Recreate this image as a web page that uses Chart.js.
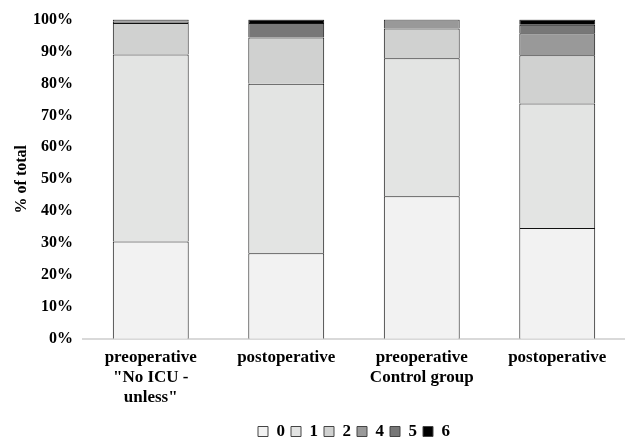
<!DOCTYPE html>
<html>
<head>
<meta charset="utf-8">
<script src="https://cdn.jsdelivr.net/npm/chart.js@4"></script>
<style>
  html, body { margin: 0; padding: 0; background: #fff; }
  #wrap { width: 625px; height: 438px; }
</style>
</head>
<body>
<div id="wrap"><canvas id="myChart"></canvas></div>
<script>
const categories = [
  ["preoperative", "\"No ICU -", "unless\""],
  ["postoperative"],
  ["preoperative", "Control group"],
  ["postoperative"]
];
const levels = ["0", "1", "2", "4", "5", "6"];
const score0 = [30.5, 26.8, 44.7, 34.7];
const score1 = [58.6, 53.1, 43.2, 39.0];
const score2 = [9.8, 14.5, 9.3, 15.1];
const score4 = [0.4, 0, 2.8, 6.9];
const score5 = [0.7, 4.5, 0, 2.7];
const score6 = [0, 1.1, 0, 1.6];
const yTicks = [0, 10, 20, 30, 40, 50, 60, 70, 80, 90, 100];

const colors = ['#f2f2f2', '#e3e4e3', '#d0d1d0', '#999999', '#777777', '#000000'];
const series = [score0, score1, score2, score4, score5, score6];
const font = "'Liberation Serif', 'Times New Roman', serif";

new Chart(document.getElementById("myChart"), {
    type: 'bar',
    data: {
        labels: categories,
        datasets: series.map((vals, i) => ({
            label: levels[i],
            data: vals,
            backgroundColor: colors[i],
            borderColor: '#111',
            borderWidth: 1,
            barPercentage: 0.56,
            categoryPercentage: 1
        }))
    },
    options: {
        responsive: true,
        maintainAspectRatio: false,
        animation: false,
        layout: { padding: { top: 18, right: 0, left: 12, bottom: -12 } },
        scales: {
            x: {
                stacked: true,
                grid: { display: false, drawTicks: false },
                border: { display: true, color: '#d9d9d9', width: 2 },
                ticks: {
                    color: '#000',
                    maxRotation: 0,
                    padding: 9,
                    font: { family: font, size: 17, weight: 'bold', lineHeight: 1.18 }
                }
            },
            y: {
                stacked: true,
                min: 0,
                max: 100,
                afterBuildTicks: s => { s.ticks = yTicks.map(v => ({ value: v })); },
                afterFit: s => { s.width = 71; },
                grid: { display: false, drawTicks: false },
                border: { display: false },
                ticks: {
                    color: '#000',
                    padding: 10,
                    font: { family: font, size: 16, weight: 'bold' },
                    callback: v => v + '%'
                },
                title: {
                    display: true,
                    text: '% of total',
                    color: '#000',
                    padding: { top: 0, bottom: 2 },
                    font: { family: font, size: 16, weight: 'bold' }
                }
            }
        },
        plugins: {
            tooltip: { enabled: false },
            legend: {
                position: 'bottom',
                fullSize: false,
                labels: {
                    color: '#000',
                    boxWidth: 10,
                    boxHeight: 10,
                    padding: 6,
                    font: { family: font, size: 17, weight: 'bold' },
                    generateLabels: chart => chart.data.datasets.map((d, i) => ({
                        text: d.label,
                        fillStyle: d.backgroundColor,
                        strokeStyle: '#444',
                        lineWidth: 1,
                        fontColor: '#000',
                        datasetIndex: i
                    }))
                }
            }
        }
    }
});
</script>
</body>
</html>
